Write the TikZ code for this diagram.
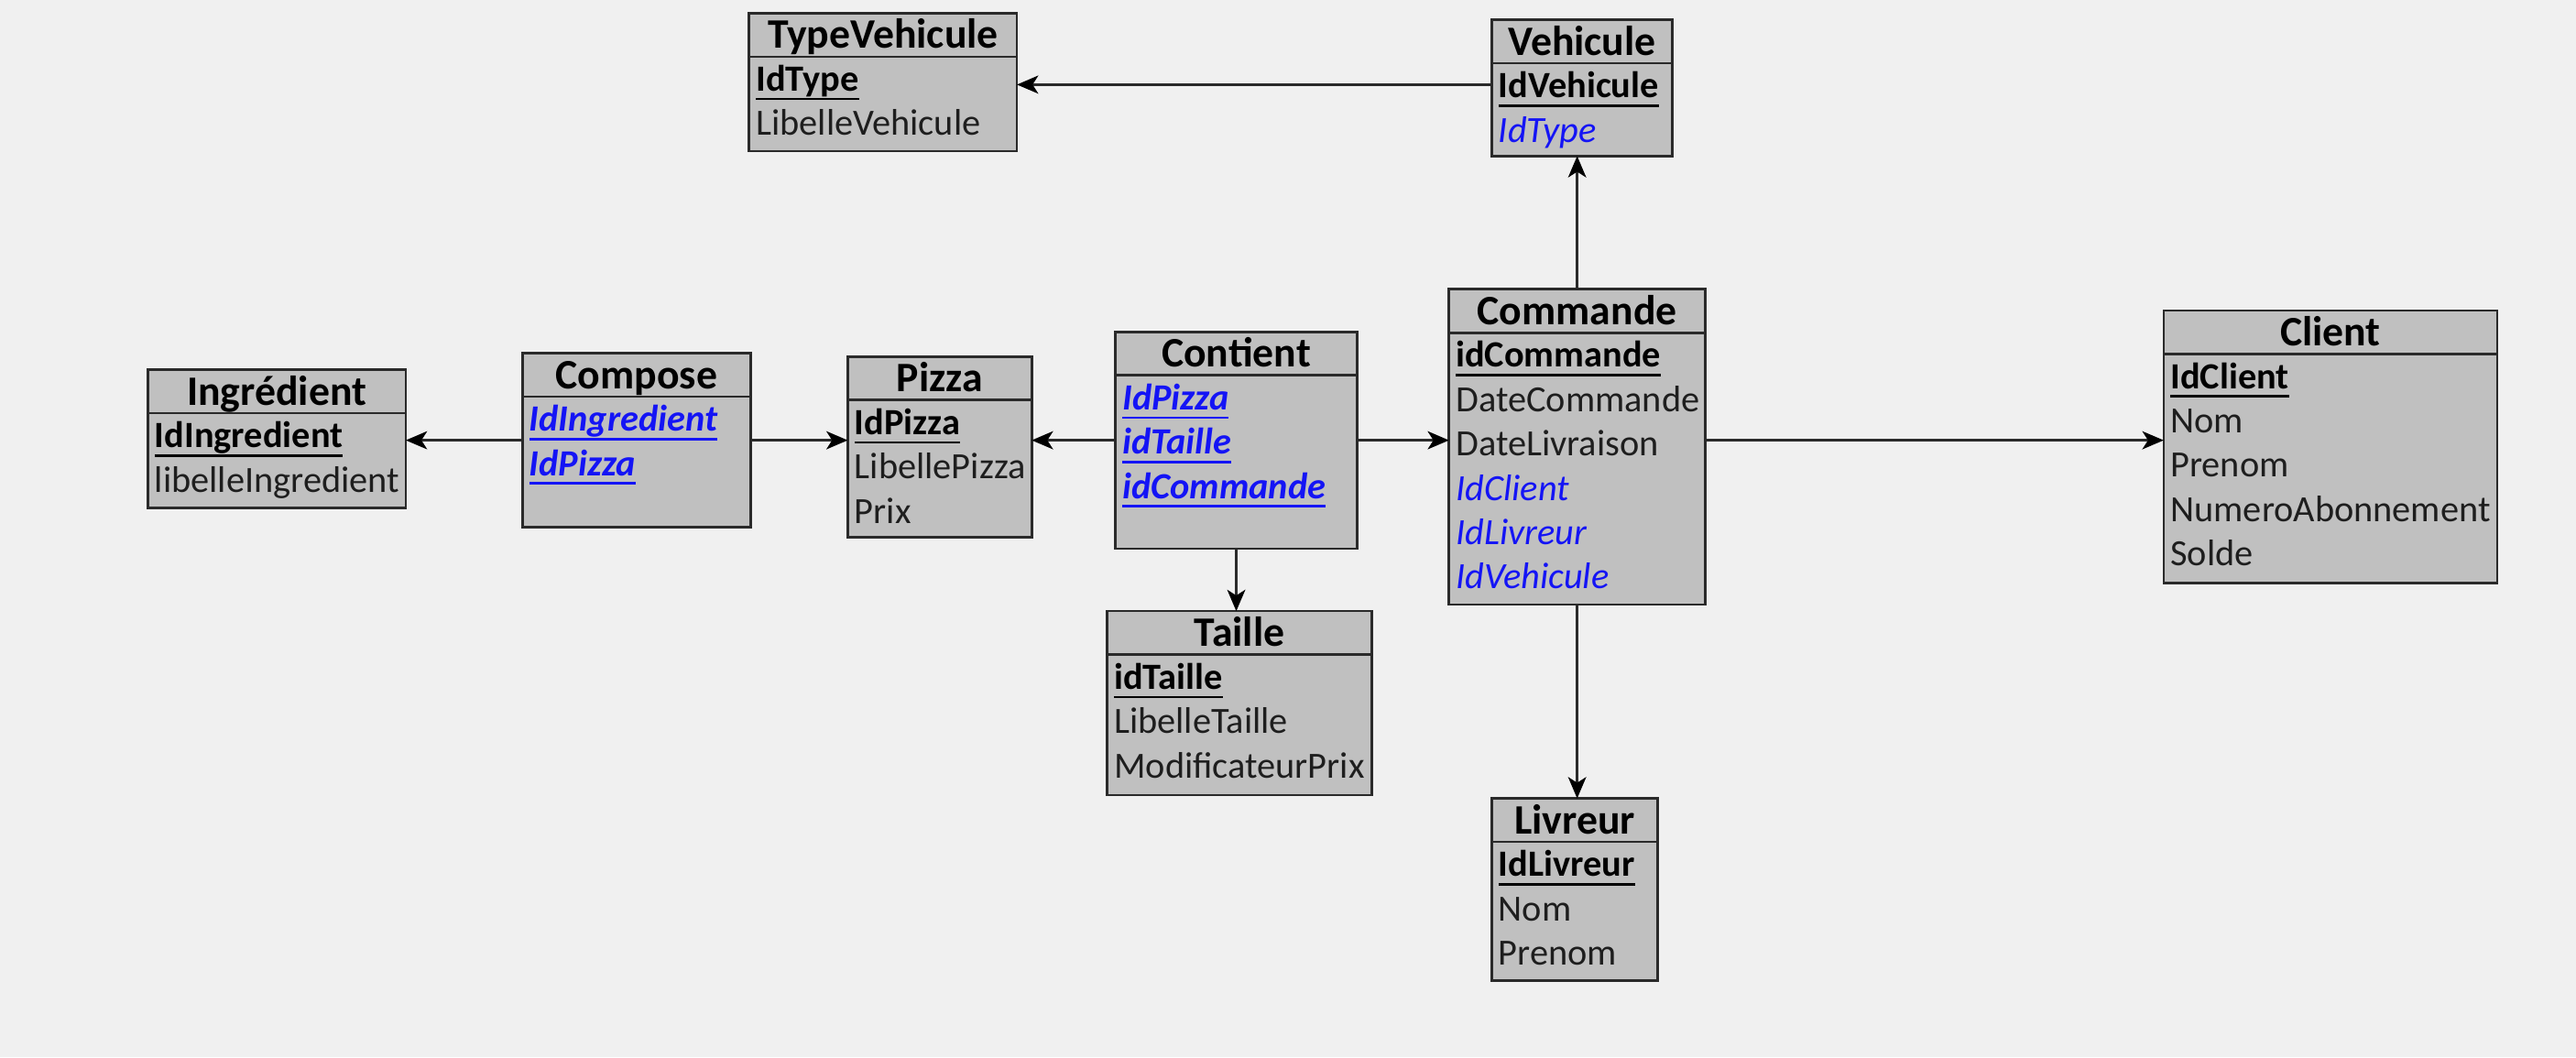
\documentclass[tikz,border=0pt]{standalone}
\usepackage{fontspec}
\setmainfont{Carlito}
\usetikzlibrary{arrows.meta}
\definecolor{fond}{HTML}{F0F0F0}
\definecolor{gristable}{HTML}{C0C0C0}
\definecolor{bord}{HTML}{2A2A2A}
\definecolor{bleu}{RGB}{20,20,245}
\definecolor{texte}{HTML}{1E1E1E}
\newcommand{\souligne}[1]{\setbox0\hbox{#1}\rlap{\rule[-5.5pt]{\wd0}{1.5pt}}\box0}
\newcommand{\pk}[1]{{\color{black}\bfseries\souligne{#1}}}
\newcommand{\fk}[1]{{\color{bleu}\itshape #1}}
\newcommand{\pf}[1]{{\color{bleu}\bfseries\itshape\souligne{#1}}}
\tikzset{
    entite/.style={draw=bord, line width=1.5pt, fill=gristable, anchor=north west, inner sep=0pt, outer sep=0pt},
    entite ligne/.style={draw=bord, line width=1.5pt},
    titre/.style={font=\fontsize{25.5}{30}\selectfont\bfseries, text=black, inner sep=0pt},
    champ/.style={font=\fontsize{22.5}{27}\selectfont, text=texte, inner sep=0pt},
    lien/.style={draw=bord, line width=1.4pt, -{Stealth[length=13pt,width=11pt,inset=3.5pt,color=black]}},
}
% #1 nom, #2 coin haut gauche, #3 largeur, #4 hauteur, #5 titre, #6 champs
\newcommand{\entite}[6]{%
    \node[entite, minimum width=#3pt, minimum height=#4pt] (#1) at #2 {};
    \draw[entite ligne] ([yshift=-26.5pt]#1.north west) -- ([yshift=-26.5pt]#1.north east);
    \node[titre, anchor=base] (#1-titre) at ([yshift=-21.5pt]#1.north) {#5};
    \foreach \champ [count=\i] in {#6}
    {
        \node[champ, anchor=base west] (#1-\i) at ([xshift=4pt, yshift={-47.5pt-(\i-1)*27pt}]#1.north west) {\champ};}
}
\begin{document}
\begin{tikzpicture}[x=1pt, y=-1pt]
\path[use as bounding box, fill=fond] (0,0) rectangle (1568,643.5);

\entite{TypeVehicule}{(456,8)}{163}{84}{TypeVehicule}{\pk{IdType}, LibelleVehicule}
\entite{Vehicule}{(908,12)}{110}{83}{Vehicule}{\pk{IdVehicule}, \fk{IdType}}
\entite{Ingredient}{(90,225)}{157}{84}{Ingrédient}{\pk{IdIngredient}, libelleIngredient}
\entite{Compose}{(318,215)}{139}{106}{Compose}{\pf{IdIngredient}, \pf{IdPizza}}
\entite{Pizza}{(516,217)}{112}{110}{Pizza}{\pk{IdPizza}, LibellePizza, Prix}
\entite{Contient}{(679,202)}{147}{132}{Contient}{\pf{IdPizza}, \pf{idTaille}, \pf{idCommande}}
\entite{Commande}{(882,176)}{156}{192}{Commande}{\pk{idCommande}, DateCommande, DateLivraison, \fk{IdClient}, \fk{IdLivreur}, \fk{IdVehicule}}
\entite{Client}{(1317,189)}{203}{166}{Client}{\pk{IdClient}, Nom, Prenom, NumeroAbonnement, Solde}
\entite{Taille}{(674,372)}{161}{112}{Taille}{\pk{idTaille}, LibelleTaille, ModificateurPrix}
\entite{Livreur}{(908,486)}{101}{111}{Livreur}{\pk{IdLivreur}, Nom, Prenom}

% liens
\draw[lien] ([yshift=2pt]Vehicule.west) -- ([yshift=2pt]Vehicule.west -| TypeVehicule.east);
\draw[lien] (Commande.north) -- (Commande.north |- Vehicule.south);
\draw[lien] (Commande.south) -- (Commande.south |- Livreur.north);
\draw[lien] (Contient.east -| Commande.east) -- (Contient.east -| Client.west);
\draw[lien] (Contient.east) -- (Contient.east -| Commande.west);
\draw[lien] (Contient.west) -- (Contient.west -| Pizza.east);
\draw[lien] (Contient.south) -- (Contient.south |- Taille.north);
\draw[lien] (Compose.east) -- (Compose.east -| Pizza.west);
\draw[lien] (Compose.west) -- (Compose.west -| Ingredient.east);

\end{tikzpicture}
\end{document}
